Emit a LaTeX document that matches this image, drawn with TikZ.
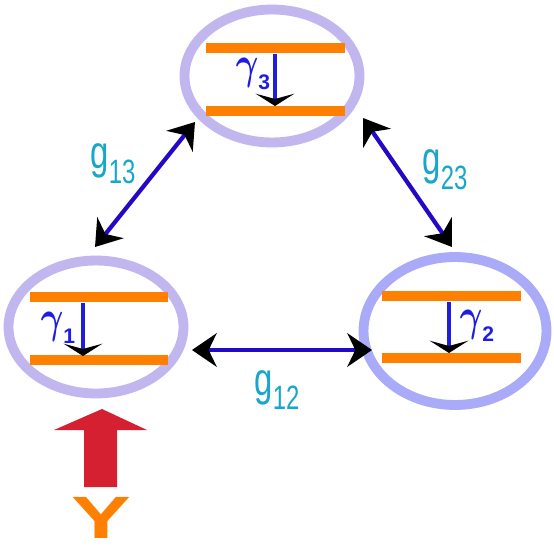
\documentclass[tikz,border=0pt]{standalone}
\usepackage{fontspec}
\setmainfont{Liberation Sans}
\usetikzlibrary{arrows.meta,calc,shapes.geometric}

\definecolor{ringpurple}{HTML}{C2B6EE}
\definecolor{ringblue}{HTML}{A9AAF8}
\definecolor{levelorange}{HTML}{FF8000}
\definecolor{linkblue}{HTML}{2408C8}
\definecolor{ratecyan}{HTML}{18A6CC}
\definecolor{decayblue}{HTML}{1E1EE0}
\definecolor{pumpred}{HTML}{D42030}

\newcommand{\decaylabel}[1]{\scalebox{0.95}[1.25]{\boldmath$\gamma$}\raisebox{-6pt}{\fontsize{12}{12}\selectfont\bfseries #1}}
\newcommand{\couplabel}[1]{\scalebox{0.85}[1.2]{g\raisebox{-7pt}{\fontsize{16}{16}\selectfont #1}}}

\begin{document}
\begin{tikzpicture}[x=0.02cm, y=-0.02cm,
      every node/.style={font=\fontsize{22}{24}\selectfont},
      atom/.style={ellipse, draw=ringpurple, line width=5.6pt, minimum width=3.5cm, minimum height=2.66cm, inner sep=0pt},
      level/.style={levelorange, line width=6.2pt},
      decay/.style={decayblue, line width=2pt, -{Stealth[color=black, length=7pt, width=22pt, inset=3pt]}},
      link/.style={linkblue, line width=2.4pt, {Stealth[color=black, length=14pt, width=19pt, inset=4.5pt]}-{Stealth[color=black, length=14pt, width=19pt, inset=4.5pt]}},
      rate/.style={text=ratecyan},
      gamma/.style={text=decayblue, font=\fontsize{20}{22}\selectfont}
  ]
    \useasboundingbox (0,0) rectangle (554,554);

    \node[atom] (a3) at (272,76) {};
    \node[atom] (a1) at (96,327) {};
    \node[atom, draw=ringblue, minimum width=3.66cm, minimum height=2.96cm] (a2) at (455,331) {};

    % levels and decays
    \draw[level] ($(a3)+(-66,-28)$) -- ($(a3)+(73,-28)$);
    \draw[level] ($(a3)+(-66,35)$) -- ($(a3)+(73,35)$);
    \draw[decay] ($(a3)+(3,-22)$) -- ($(a3)+(3,30)$);
    \node[gamma] (g3) at (253,74) {\decaylabel{3}};

    \draw[level] ($(a1)+(-66,-30)$) -- ($(a1)+(72,-30)$);
    \draw[level] ($(a1)+(-66,33)$) -- ($(a1)+(72,33)$);
    \draw[decay] ($(a1)+(-13,-24)$) -- ($(a1)+(-13,29)$);
    \node[gamma] (g1) at (58,328) {\decaylabel{1}};

    \draw[level] ($(a2)+(-73,-35)$) -- ($(a2)+(66,-35)$);
    \draw[level] ($(a2)+(-73,27)$) -- ($(a2)+(66,27)$);
    \draw[decay] ($(a2)+(-6,-29)$) -- ($(a2)+(-6,22)$);
    \node[gamma] (g2) at (477,326) {\decaylabel{2}};

    % couplings
    \draw[link] ($(a1)+(-1,-80)$) -- ($(a3)+(-77,46)$);
    \draw[link] ($(a3)+(91,42)$) -- ($(a2)+(-3,-84)$);
    \draw[link] ($(a1)+(96,23)$) -- ($(a2)+(-83,19)$);
    \node[rate] (r13) at (113,164) {\couplabel{13}};
    \node[rate] (r23) at (445,170) {\couplabel{23}};
    \node[rate] (r12) at (277,390) {\couplabel{12}};

    % pump
    \coordinate (tip) at (102,409);
    \fill[pumpred] (tip) -- ++(45,21) -- ++(-30,0) -- ++(0,57) -- ++(-33,0) -- ++(0,-57) -- ++(-30,0) -- cycle;
    \node[text=levelorange, inner sep=0pt, font=\fontsize{34}{34}\selectfont\bfseries] (in) at (101,518) {\scalebox{1.5}[1]{Y}};
\end{tikzpicture}
\end{document}
